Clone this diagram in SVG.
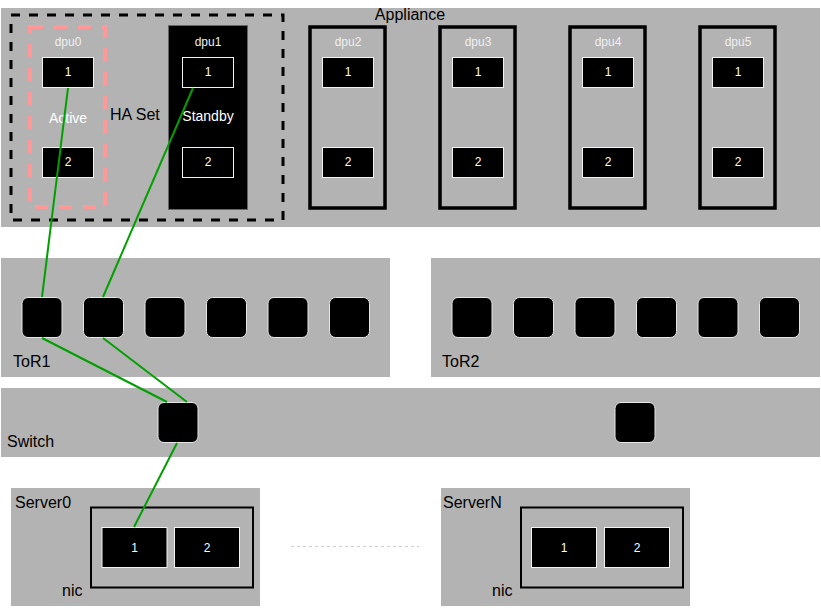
<svg xmlns="http://www.w3.org/2000/svg" width="821" height="608" viewBox="0 0 821 608">
<style>
text{font-family:"Liberation Sans",Arial,Helvetica,sans-serif}
.bg{fill:#b3b3b3}
.port{fill:#000;stroke:#f2f2f2;stroke-width:1}
.sq{fill:#000;stroke:#e6e6e6;stroke-width:1}
.wt{fill:#fff;font-size:12px;text-anchor:middle}
.dl{fill:#f0f0f0;font-size:12px;text-anchor:middle}
.lbl{fill:#000;font-size:16px}
.dpu{fill:none;stroke:#000;stroke-width:3.5}
.link{stroke:#00a000;stroke-width:2;fill:none}
</style>
<rect width="821" height="608" fill="#fff"/>
<g id="appliance">
<rect class="bg" x="1" y="8" width="819" height="219"/>
<text x="410" y="20" class="lbl" text-anchor="middle">Appliance</text>
</g>
<g id="haset">
<rect x="11" y="15" width="272" height="205" fill="none" stroke="#000" stroke-width="3" stroke-dasharray="9 9"/>
<text x="110" y="120" class="lbl">HA Set</text>
</g>
<g id="dpu0">
<rect x="30" y="27" width="75" height="180" fill="none" stroke="#ff9999" stroke-width="4" stroke-dasharray="13 11"/>
<text x="68" y="46" class="dl">dpu0</text>
<rect class="port" x="42.5" y="57.5" width="51" height="30"/>
<text x="68" y="76" class="wt">1</text>
<rect class="port" x="42.5" y="147.5" width="51" height="30"/>
<text x="68" y="166" class="wt">2</text>
<text x="68" y="123" fill="#fff" font-size="14" text-anchor="middle">Active</text>
</g>
<g id="dpu1">
<rect x="168.5" y="25.5" width="79" height="184" fill="#000" stroke="#666" stroke-width="1"/>
<text x="208" y="46" class="dl">dpu1</text>
<rect class="port" x="182.5" y="57.5" width="51" height="30"/>
<text x="208" y="76" class="wt">1</text>
<rect class="port" x="182.5" y="147.5" width="51" height="30"/>
<text x="208" y="166" class="wt">2</text>
<text x="208" y="121" fill="#fff" font-size="14" text-anchor="middle">Standby</text>
</g>
<g id="dpu2">
<rect class="dpu" x="310" y="27" width="75" height="181"/>
<text x="348" y="46" class="dl">dpu2</text>
<rect class="port" x="322.5" y="57.5" width="51" height="30"/>
<text x="348" y="76" class="wt">1</text>
<rect class="port" x="322.5" y="147.5" width="51" height="30"/>
<text x="348" y="166" class="wt">2</text>
</g>
<g id="dpu3">
<rect class="dpu" x="440" y="27" width="75" height="181"/>
<text x="478" y="46" class="dl">dpu3</text>
<rect class="port" x="452.5" y="57.5" width="51" height="30"/>
<text x="478" y="76" class="wt">1</text>
<rect class="port" x="452.5" y="147.5" width="51" height="30"/>
<text x="478" y="166" class="wt">2</text>
</g>
<g id="dpu4">
<rect class="dpu" x="570" y="27" width="75" height="181"/>
<text x="608" y="46" class="dl">dpu4</text>
<rect class="port" x="582.5" y="57.5" width="51" height="30"/>
<text x="608" y="76" class="wt">1</text>
<rect class="port" x="582.5" y="147.5" width="51" height="30"/>
<text x="608" y="166" class="wt">2</text>
</g>
<g id="dpu5">
<rect class="dpu" x="700" y="27" width="75" height="181"/>
<text x="738" y="46" class="dl">dpu5</text>
<rect class="port" x="712.5" y="57.5" width="51" height="30"/>
<text x="738" y="76" class="wt">1</text>
<rect class="port" x="712.5" y="147.5" width="51" height="30"/>
<text x="738" y="166" class="wt">2</text>
</g>
<g id="tor1">
<rect class="bg" x="1" y="258" width="389" height="119"/>
<rect class="sq" x="22" y="297.5" width="40" height="40" rx="6"/>
<rect class="sq" x="83.5" y="297.5" width="40" height="40" rx="6"/>
<rect class="sq" x="145" y="297.5" width="40" height="40" rx="6"/>
<rect class="sq" x="206.5" y="297.5" width="40" height="40" rx="6"/>
<rect class="sq" x="268" y="297.5" width="40" height="40" rx="6"/>
<rect class="sq" x="329.5" y="297.5" width="40" height="40" rx="6"/>
<text x="13" y="367" class="lbl" font-size="15">ToR1</text>
</g>
<g id="tor2">
<rect class="bg" x="431" y="258" width="389" height="119"/>
<rect class="sq" x="452" y="297.5" width="40" height="40" rx="6"/>
<rect class="sq" x="513.5" y="297.5" width="40" height="40" rx="6"/>
<rect class="sq" x="575" y="297.5" width="40" height="40" rx="6"/>
<rect class="sq" x="636.5" y="297.5" width="40" height="40" rx="6"/>
<rect class="sq" x="698" y="297.5" width="40" height="40" rx="6"/>
<rect class="sq" x="759.5" y="297.5" width="40" height="40" rx="6"/>
<text x="442" y="367" class="lbl" font-size="15">ToR2</text>
</g>
<g id="switch">
<rect class="bg" x="1" y="388" width="819" height="69"/>
<rect class="sq" x="158" y="402.5" width="40" height="40" rx="6"/>
<rect class="sq" x="615" y="402.5" width="40" height="40" rx="6"/>
<text x="7" y="447" class="lbl">Switch</text>
</g>
<g id="server0">
<rect class="bg" x="11" y="488" width="249" height="118"/>
<text x="15" y="508" class="lbl">Server0</text>
<rect x="91" y="507.5" width="162" height="80" fill="none" stroke="#000" stroke-width="2"/>
<rect class="port" x="102" y="527.5" width="65" height="40"/>
<text x="134.5" y="552" class="wt">1</text>
<rect class="port" x="174.5" y="527.5" width="65" height="40"/>
<text x="207" y="552" class="wt">2</text>
<text x="62" y="596" class="lbl" font-size="14">nic</text>
</g>
<g id="serverN">
<rect class="bg" x="441" y="488" width="249" height="118"/>
<text x="443" y="508" class="lbl">ServerN</text>
<rect x="521" y="507.5" width="162" height="80" fill="none" stroke="#000" stroke-width="2"/>
<rect class="port" x="531.5" y="527.5" width="65" height="40"/>
<text x="564" y="552" class="wt">1</text>
<rect class="port" x="604.5" y="527.5" width="65" height="40"/>
<text x="637" y="552" class="wt">2</text>
<text x="492" y="596" class="lbl" font-size="14">nic</text>
</g>
<g id="connectors">
<line class="link" x1="68" y1="88" x2="42" y2="297"/>
<line class="link" x1="193" y1="88" x2="103" y2="297"/>
<line class="link" x1="42" y1="338" x2="167" y2="402"/>
<line class="link" x1="103" y1="338" x2="187" y2="402"/>
<line class="link" x1="177" y1="443" x2="134" y2="527"/>
<line x1="291" y1="546.5" x2="419" y2="546.5" stroke="#cccccc" stroke-width="1" stroke-dasharray="3 3"/>
</g>
</svg>
